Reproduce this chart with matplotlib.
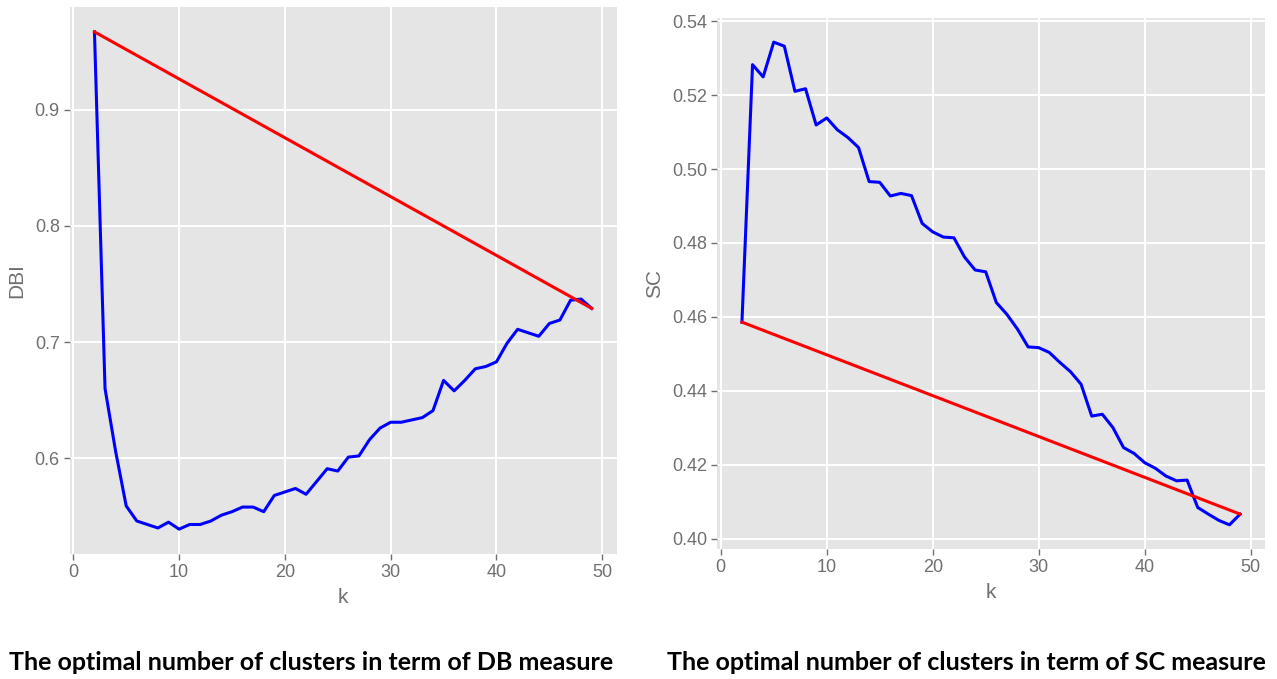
import matplotlib.pyplot as plt
import numpy as np

plt.style.use('ggplot')
plt.rcParams['font.family'] = ['Liberation Sans Narrow', 'Liberation Sans', 'DejaVu Sans']

# number of clusters tried
k = np.arange(2, 50)

# Davies-Bouldin index per k
dbi = [0.967, 0.660, 0.606, 0.559, 0.546, 0.543, 0.540, 0.545, 0.539, 0.543,
       0.543, 0.546, 0.551, 0.554, 0.558, 0.558, 0.554, 0.568, 0.571, 0.574,
       0.569, 0.580, 0.591, 0.589, 0.601, 0.602, 0.616, 0.626, 0.631, 0.631,
       0.633, 0.635, 0.641, 0.667, 0.658, 0.667, 0.677, 0.679, 0.683, 0.699,
       0.711, 0.708, 0.705, 0.716, 0.719, 0.736, 0.737, 0.729]

# silhouette coefficient per k
sc = [0.4586, 0.5282, 0.5249, 0.5343, 0.5332, 0.5210, 0.5217, 0.5119, 0.5138, 0.5106,
      0.5085, 0.5058, 0.4966, 0.4964, 0.4927, 0.4934, 0.4928, 0.4853, 0.4830, 0.4816,
      0.4814, 0.4762, 0.4727, 0.4722, 0.4639, 0.4607, 0.4567, 0.4519, 0.4517, 0.4504,
      0.4477, 0.4452, 0.4418, 0.4332, 0.4337, 0.4301, 0.4247, 0.4231, 0.4206, 0.4191,
      0.4170, 0.4157, 0.4159, 0.4085, 0.4067, 0.4050, 0.4038, 0.4067]

dbi_ticks = [0.6, 0.7, 0.8, 0.9]
sc_ticks = [0.40, 0.42, 0.44, 0.46, 0.48, 0.50, 0.52, 0.54]
k_ticks = [0, 10, 20, 30, 40, 50]

fig = plt.figure(figsize=(12.77, 6.79), dpi=100)
fig.patch.set_facecolor('white')

ax1 = fig.add_axes([0.0545, 0.1841, 0.4283, 0.8056])
ax2 = fig.add_axes([0.5615, 0.1915, 0.4291, 0.7820])

panels = [(ax1, dbi, 'DBI', dbi_ticks, '{:.1f}'),
          (ax2, sc, 'SC', sc_ticks, '{:.2f}')]

for ax, vals, name, yt, fmt in panels:
    vals = np.asarray(vals)
    ax.plot(k, vals, color='#0000ff', lw=2.2)
    # chord from first to last point for the elbow
    ax.plot(k[[0, -1]], vals[[0, -1]], color='#ff0000', lw=2.2)
    ax.set_xticks(k_ticks)
    ax.set_yticks(yt)
    ax.set_yticklabels([fmt.format(v) for v in yt])
    ax.grid(True, color='white', lw=1.4)
    ax.set_facecolor('#e5e5e5')
    ax.tick_params(colors='#707070', labelsize=13, length=4, width=1, pad=3)
    ax.set_xlabel('k', fontsize=15, color='#707070', labelpad=5)
    ax.set_ylabel(name, fontsize=15, color='#707070', labelpad=6)
    for s in ax.spines.values():
        s.set_visible(False)

cap_font = dict(family=['Lato', 'DejaVu Sans'], fontweight='bold', fontsize=18,
                color='black', ha='center', va='center')
fig.text(311 / 1277, 1 - 662 / 679, 'The optimal number of clusters in term of DB measure', **cap_font)
fig.text(966 / 1277, 1 - 662 / 679, 'The optimal number of clusters in term of SC measure', **cap_font)

fig.savefig('out.png', dpi=100)
